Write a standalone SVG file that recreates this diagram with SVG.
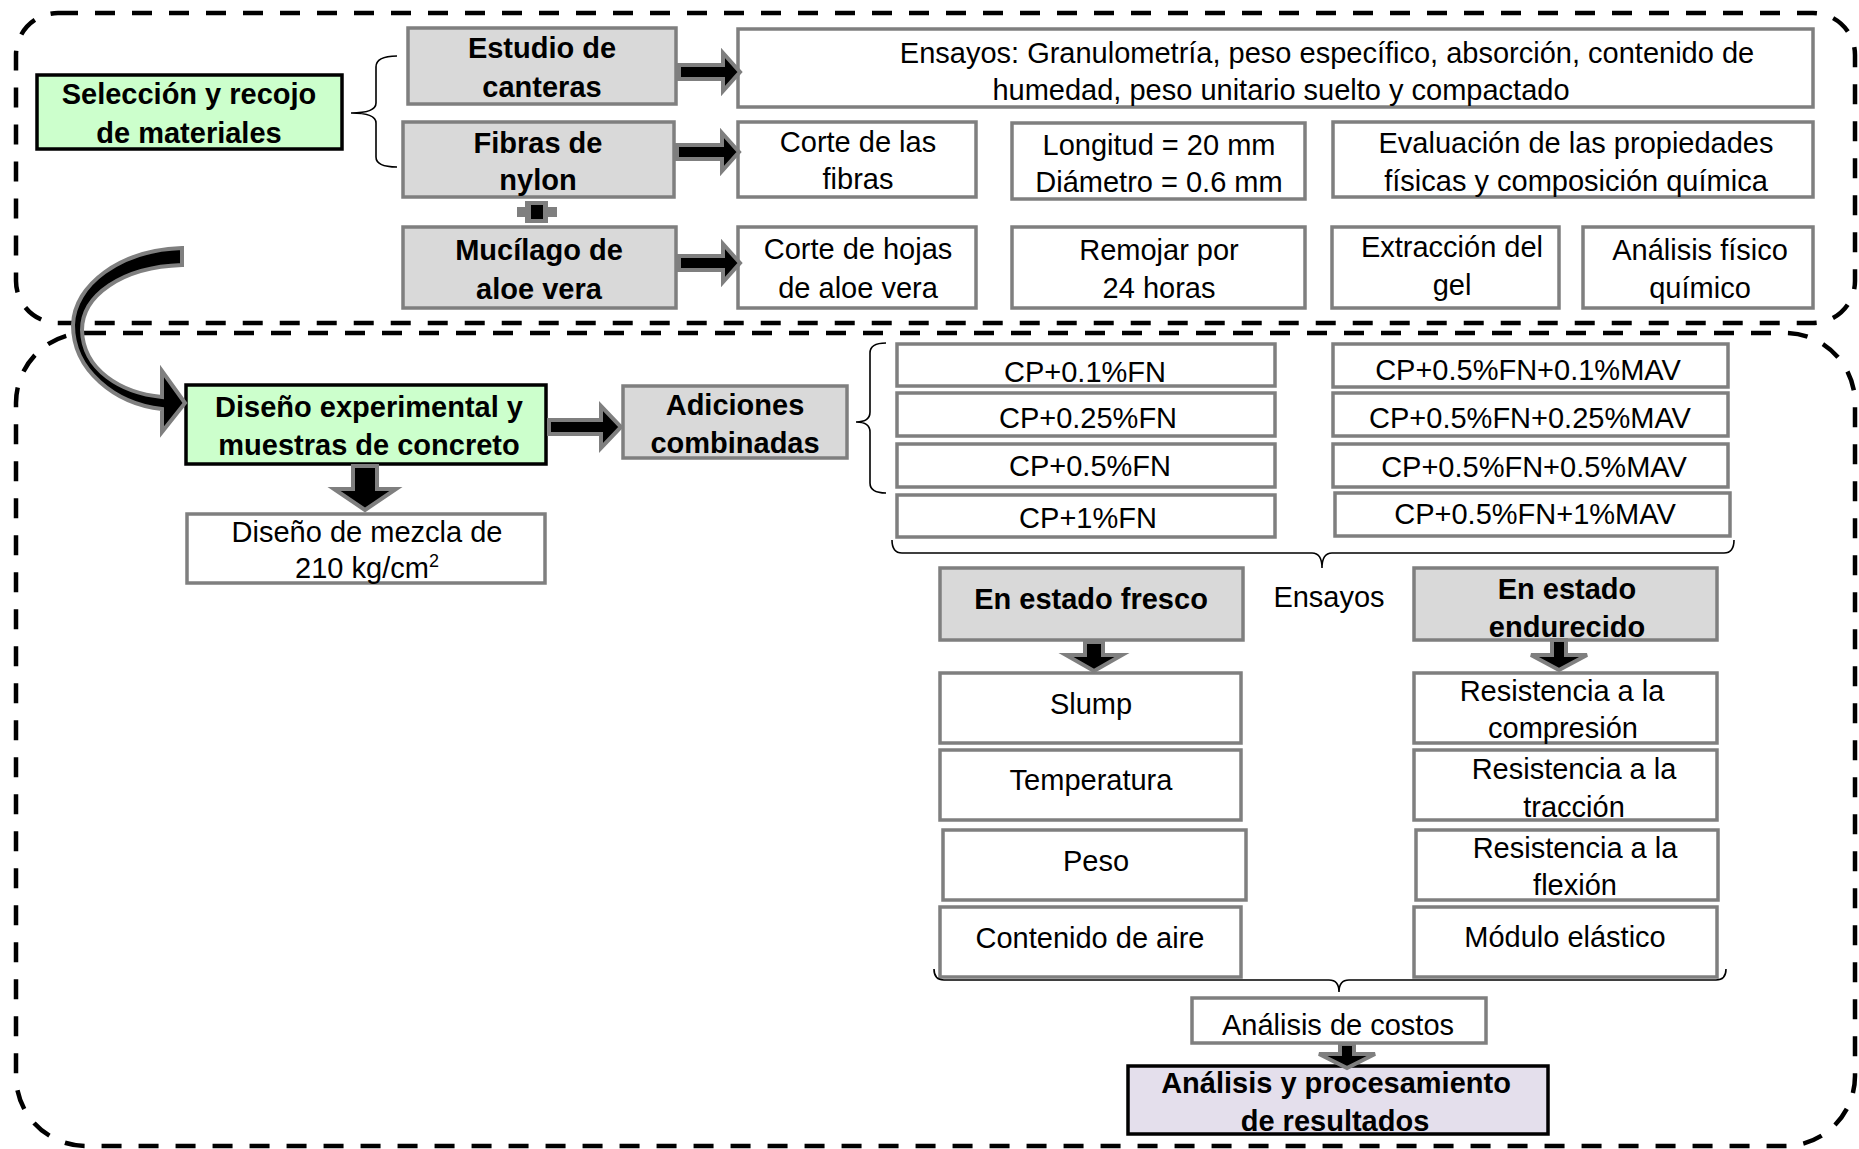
<svg xmlns="http://www.w3.org/2000/svg" width="1859" height="1149" viewBox="0 0 1859 1149">
<style>
.bg{fill:#fff}
.g{fill:#d9d9d9;stroke:#7f7f7f;stroke-width:3.5}
.w{fill:#fff;stroke:#7f7f7f;stroke-width:3.5}
.gr{fill:#ccffcc;stroke:#000;stroke-width:3.5}
.lv{fill:#e4dfec;stroke:#000;stroke-width:3.5}
.t{font-family:"Liberation Sans",Arial,sans-serif;font-size:29px;fill:#000;text-anchor:middle}
.b{font-weight:bold}
.arr{fill:#000;stroke:#7f7f7f;stroke-width:4;stroke-linejoin:miter}
.br{fill:none;stroke:#000;stroke-width:1.6}
.dash{fill:none;stroke:#000;stroke-width:4.5;stroke-dasharray:20 17}
</style>
<rect class="bg" x="0" y="0" width="1859" height="1149"/>
<g id="containers">
<rect class="dash" x="16" y="13" width="1839" height="310" rx="42" ry="42"/>
<rect class="dash" x="16" y="333" width="1839" height="813" rx="70" ry="70"/>
</g>
<g id="n-seleccion"><rect class="gr" x="37" y="75" width="305" height="74"/><text class="t b" x="189" y="104">Selección y recojo</text><text class="t b" x="189" y="143">de materiales</text></g>
<g id="n-estudio"><rect class="g" x="408" y="28" width="268" height="76"/><text class="t b" x="542" y="58">Estudio de</text><text class="t b" x="542" y="97">canteras</text></g>
<g id="n-fibras"><rect class="g" x="403" y="122" width="271" height="75"/><text class="t b" x="538" y="153">Fibras de</text><text class="t b" x="538" y="190">nylon</text></g>
<g id="n-mucilago"><rect class="g" x="403" y="227" width="273" height="81"/><text class="t b" x="539" y="260">Mucílago de</text><text class="t b" x="539" y="299">aloe vera</text></g>
<g id="n-ensayos-canteras"><rect class="w" x="738" y="29" width="1075" height="78"/><text class="t" x="1327" y="63">Ensayos: Granulometría, peso específico, absorción, contenido de</text><text class="t" x="1281" y="100">humedad, peso unitario suelto y compactado</text></g>
<g id="n-corte-fibras"><rect class="w" x="738" y="122" width="238" height="75"/><text class="t" x="858" y="152">Corte de las</text><text class="t" x="858" y="189">fibras</text></g>
<g id="n-longitud"><rect class="w" x="1012" y="123" width="293" height="76"/><text class="t" x="1159" y="155">Longitud = 20 mm</text><text class="t" x="1159" y="192">Diámetro = 0.6 mm</text></g>
<g id="n-evaluacion"><rect class="w" x="1333" y="122" width="480" height="75"/><text class="t" x="1576" y="153">Evaluación de las propiedades</text><text class="t" x="1576" y="191">físicas y composición química</text></g>
<g id="n-corte-hojas"><rect class="w" x="738" y="227" width="238" height="81"/><text class="t" x="858" y="259">Corte de hojas</text><text class="t" x="858" y="298">de aloe vera</text></g>
<g id="n-remojar"><rect class="w" x="1012" y="227" width="293" height="81"/><text class="t" x="1159" y="260">Remojar por</text><text class="t" x="1159" y="298">24 horas</text></g>
<g id="n-extraccion"><rect class="w" x="1332" y="227" width="227" height="81"/><text class="t" x="1452" y="257">Extracción del</text><text class="t" x="1452" y="295">gel</text></g>
<g id="n-analisis-fq"><rect class="w" x="1583" y="227" width="230" height="81"/><text class="t" x="1700" y="260">Análisis físico</text><text class="t" x="1700" y="298">químico</text></g>
<g id="n-diseno-exp"><rect class="gr" x="186" y="385" width="360" height="79"/><text class="t b" x="369" y="417">Diseño experimental y</text><text class="t b" x="369" y="455">muestras de concreto</text></g>
<g id="n-adiciones"><rect class="g" x="623" y="386" width="224" height="72"/><text class="t b" x="735" y="415">Adiciones</text><text class="t b" x="735" y="453">combinadas</text></g>
<g id="n-mezcla"><rect class="w" x="187" y="514" width="358" height="69"/><text class="t" x="367" y="542">Diseño de mezcla de</text><text class="t" x="367" y="578">210 kg/cm<tspan font-size="18" dy="-11">2</tspan></text></g>
<g id="n-cp01"><rect class="w" x="897" y="344" width="378" height="42"/><text class="t" x="1085" y="382">CP+0.1%FN</text></g>
<g id="n-cp025"><rect class="w" x="897" y="393" width="378" height="43"/><text class="t" x="1088" y="428">CP+0.25%FN</text></g>
<g id="n-cp05"><rect class="w" x="897" y="444" width="378" height="43"/><text class="t" x="1090" y="476">CP+0.5%FN</text></g>
<g id="n-cp1"><rect class="w" x="897" y="495" width="378" height="42"/><text class="t" x="1088" y="528">CP+1%FN</text></g>
<g id="n-cpm01"><rect class="w" x="1333" y="344" width="395" height="43"/><text class="t" x="1528" y="380">CP+0.5%FN+0.1%MAV</text></g>
<g id="n-cpm025"><rect class="w" x="1333" y="393" width="395" height="43"/><text class="t" x="1530" y="428">CP+0.5%FN+0.25%MAV</text></g>
<g id="n-cpm05"><rect class="w" x="1333" y="444" width="395" height="43"/><text class="t" x="1534" y="477">CP+0.5%FN+0.5%MAV</text></g>
<g id="n-cpm1"><rect class="w" x="1335" y="493" width="395" height="43"/><text class="t" x="1535" y="524">CP+0.5%FN+1%MAV</text></g>
<g id="n-fresco"><rect class="g" x="940" y="568" width="303" height="72"/><text class="t b" x="1091" y="609">En estado fresco</text></g>
<g id="n-ensayos-label"><text class="t" x="1329" y="607">Ensayos</text></g>
<g id="n-endurecido"><rect class="g" x="1414" y="568" width="303" height="72"/><text class="t b" x="1567" y="599">En estado</text><text class="t b" x="1567" y="637">endurecido</text></g>
<g id="n-slump"><rect class="w" x="940" y="673" width="301" height="70"/><text class="t" x="1091" y="714">Slump</text></g>
<g id="n-temperatura"><rect class="w" x="940" y="750" width="301" height="70"/><text class="t" x="1091" y="790">Temperatura</text></g>
<g id="n-peso"><rect class="w" x="943" y="830" width="303" height="70"/><text class="t" x="1096" y="871">Peso</text></g>
<g id="n-aire"><rect class="w" x="940" y="907" width="301" height="70"/><text class="t" x="1090" y="948">Contenido de aire</text></g>
<g id="n-compresion"><rect class="w" x="1414" y="673" width="303" height="70"/><text class="t" x="1562" y="701">Resistencia a la</text><text class="t" x="1563" y="738">compresión</text></g>
<g id="n-traccion"><rect class="w" x="1414" y="750" width="303" height="70"/><text class="t" x="1574" y="779">Resistencia a la</text><text class="t" x="1574" y="817">tracción</text></g>
<g id="n-flexion"><rect class="w" x="1416" y="830" width="302" height="70"/><text class="t" x="1575" y="858">Resistencia a la</text><text class="t" x="1575" y="895">flexión</text></g>
<g id="n-modulo"><rect class="w" x="1414" y="907" width="303" height="70"/><text class="t" x="1565" y="947">Módulo elástico</text></g>
<g id="n-costos"><rect class="w" x="1192" y="998" width="294" height="45"/><text class="t" x="1338" y="1035">Análisis de costos</text></g>
<g id="n-resultados"><rect class="lv" x="1128" y="1066" width="420" height="68"/><text class="t b" x="1336" y="1093">Análisis y procesamiento</text><text class="t b" x="1335" y="1131">de resultados</text></g>
<g id="connectors">
<path class="br" d="M397,56 Q376,56 376,67 V103 Q376,113 351,113 Q376,113 376,123 V157 Q376,167 397,167"/>
<path class="br" d="M886,343 Q870,343 870,353 V412 Q870,422 856,422 Q870,422 870,432 V483 Q870,493 886,493"/>
<path class="br" d="M892,540 Q892,553 902,553 H1312 Q1322,553 1322,568 Q1322,553 1332,553 H1724 Q1734,553 1734,540"/>
<path class="br" d="M934,969 Q934,980 944,980 H1329 Q1339,980 1339,992 Q1339,980 1349,980 H1716 Q1726,980 1726,969"/>
<path class="arr" d="M679,65 H723 V53 L740,72 L723,91 V79 H679 Z"/>
<path class="arr" d="M677,145 H722 V133 L739,152 L722,171 V159 H677 Z"/>
<path class="arr" d="M679,256 H723 V244 L740,263 L723,282 V270 H679 Z"/>
<g id="c-fibras-mucilago"><rect x="517" y="207" width="40" height="10" fill="#7f7f7f"/><rect x="525" y="201" width="23" height="22" fill="#7f7f7f"/><rect x="531" y="205" width="12" height="14" fill="#000"/></g>
<path class="arr" d="M182,248 C120,250 74,285 73,325 C73,370 115,404 162,409 L162,432 L185,403 L162,371 L162,397 C121,393 83,370 82,330 C82,296 121,267 182,265 Z"/>
<path class="arr" d="M549,420 H601 V406 L621,427 L601,448 V434 H549 Z"/>
<path class="arr" d="M353,466 H377 V489 H396 L365,510 L334,489 H353 Z"/>
<path class="arr" d="M1085,642 H1103 V655 H1122 L1094,671 L1066,655 H1085 Z"/>
<path class="arr" d="M1552,640 H1566 V655 H1587 L1559,670 L1531,655 H1552 Z"/>
<path class="arr" d="M1340,1044 H1354 V1054 H1375 L1347,1068 L1319,1054 H1340 Z"/>
</g>
</svg>
